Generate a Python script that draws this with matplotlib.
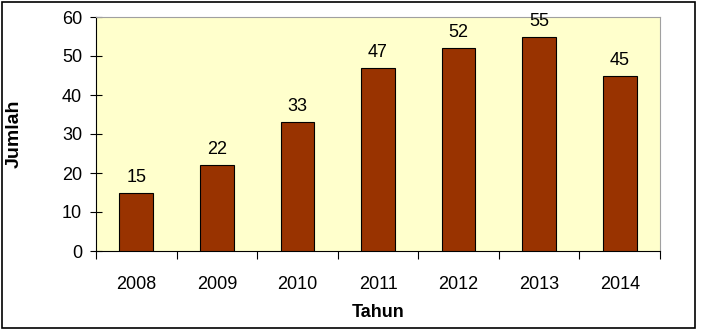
import matplotlib
matplotlib.use("Agg")
import matplotlib.pyplot as plt
from matplotlib.patches import Rectangle
from matplotlib.ticker import MultipleLocator, FixedLocator, NullFormatter

plt.rcParams['font.family'] = ['Liberation Sans', 'DejaVu Sans']

years = ["2008", "2009", "2010", "2011", "2012", "2013", "2014"]
counts = [15, 22, 33, 47, 52, 55, 45]

fig = plt.figure(figsize=(7.03, 3.30), dpi=100)
ax = fig.add_axes([96 / 703, 79 / 330, 564 / 703, 234 / 330])
ax.set_facecolor("#FFFFCC")

x = list(range(len(years)))
ax.bar(x, counts, width=0.42, color="#993300", edgecolor="black", linewidth=0.8, zorder=3)
for xi, v in zip(x, counts):
    ax.annotate(str(v), (xi, v), xytext=(0, 5), textcoords="offset points",
                ha="center", va="bottom", fontsize=13)

ax.set_xlim(-0.5, len(years) - 0.5)
ax.set_ylim(0, 60)
ax.yaxis.set_major_locator(MultipleLocator(10))
ax.tick_params(axis="y", direction="inout", length=8, width=0.8, labelsize=13, pad=6)
ax.set_xticks(x)
ax.set_xticklabels(years)
ax.tick_params(axis="x", which="major", length=0, labelsize=13, pad=18)
ax.xaxis.set_minor_locator(FixedLocator([i - 0.5 for i in range(len(years) + 1)]))
ax.xaxis.set_minor_formatter(NullFormatter())
ax.tick_params(axis="x", which="minor", direction="out", length=6, width=0.8)

for side in ("top", "right"):
    ax.spines[side].set_color("#A0A0A0")
for side in ("left", "bottom"):
    ax.spines[side].set_color("black")

ax.set_xlabel("Tahun", fontsize=13, fontweight="bold", labelpad=8)
ax.set_ylabel("Jumlah", fontsize=14, fontweight="bold", labelpad=28)

fig.patches.append(Rectangle((2 / 703, 2 / 330), 693 / 703, 326 / 330,
                             transform=fig.transFigure, fill=False,
                             edgecolor="black", linewidth=1.2))

fig.savefig("out.png", dpi=100)
